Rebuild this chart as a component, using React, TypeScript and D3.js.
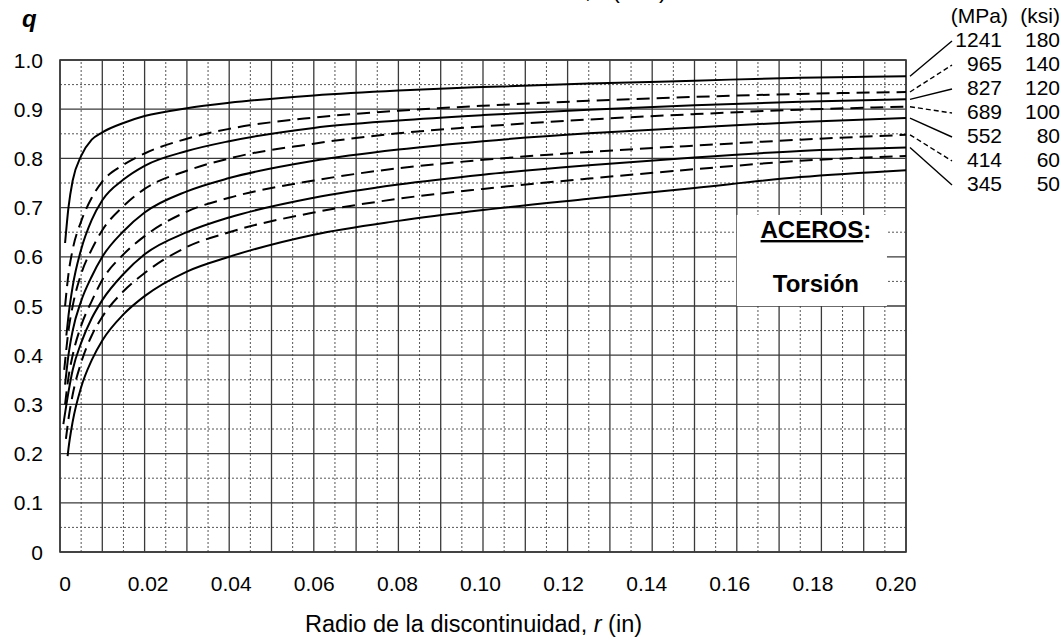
import React from "react";
import * as d3 from "d3";

// ---------- data ----------
const rGrid = [0.002, 0.003, 0.005, 0.0075, 0.01, 0.015, 0.02, 0.03, 0.04, 0.06, 0.08, 0.1, 0.125, 0.15, 0.175, 0.2];

const startR = [0.0012, 0.0012, 0.0015, 0.001, 0.0012, 0.0012, 0.0008, 0.0014, 0.0018];
const startQ = [0.628, 0.5, 0.44, 0.37, 0.34, 0.3, 0.26, 0.23, 0.195];

const q1 = [0.7, 0.755, 0.805, 0.838, 0.853, 0.872, 0.886, 0.902, 0.913, 0.928, 0.938, 0.945, 0.952, 0.958, 0.964, 0.967];
const q2 = [0.565, 0.615, 0.672, 0.72, 0.753, 0.787, 0.81, 0.84, 0.86, 0.883, 0.897, 0.907, 0.917, 0.925, 0.931, 0.935];
const q3 = [0.48, 0.54, 0.615, 0.675, 0.715, 0.757, 0.785, 0.815, 0.835, 0.862, 0.877, 0.888, 0.899, 0.908, 0.915, 0.92];
const q4 = [0.45, 0.5, 0.565, 0.615, 0.654, 0.703, 0.738, 0.775, 0.8, 0.83, 0.851, 0.865, 0.879, 0.89, 0.899, 0.905];
const q5 = [0.4, 0.45, 0.51, 0.56, 0.6, 0.652, 0.69, 0.733, 0.76, 0.795, 0.818, 0.835, 0.851, 0.863, 0.874, 0.882];
const q6 = [0.355, 0.4, 0.46, 0.51, 0.553, 0.605, 0.642, 0.692, 0.72, 0.755, 0.78, 0.797, 0.813, 0.826, 0.838, 0.848];
const q7 = [0.325, 0.37, 0.425, 0.475, 0.512, 0.565, 0.605, 0.65, 0.68, 0.72, 0.747, 0.767, 0.786, 0.802, 0.815, 0.822];
const q8 = [0.27, 0.32, 0.385, 0.44, 0.478, 0.53, 0.567, 0.62, 0.65, 0.69, 0.718, 0.738, 0.759, 0.778, 0.795, 0.805];
const q9 = [0.21, 0.265, 0.335, 0.39, 0.43, 0.483, 0.52, 0.57, 0.6, 0.645, 0.673, 0.695, 0.718, 0.74, 0.762, 0.776];

const seriesQ = [q1, q2, q3, q4, q5, q6, q7, q8, q9];
const seriesDashed = [false, true, false, true, false, true, false, true, false];

const legendMPa = ["1241", "965", "827", "689", "552", "414", "345"];
const legendKsi = ["180", "140", "120", "100", "80", "60", "50"];

const xTicks = [0, 0.02, 0.04, 0.06, 0.08, 0.1, 0.12, 0.14, 0.16, 0.18, 0.2];
const xTickLabels = ["0", "0.02", "0.04", "0.06", "0.08", "0.10", "0.12", "0.14", "0.16", "0.18", "0.20"];
const yTicks = [0, 0.1, 0.2, 0.3, 0.4, 0.5, 0.6, 0.7, 0.8, 0.9, 1.0];
const yTickLabels = ["0", "0.1", "0.2", "0.3", "0.4", "0.5", "0.6", "0.7", "0.8", "0.9", "1.0"];

// ---------- layout ----------
const W = 1061;
const H = 643;
const FONT = "'Liberation Sans', Arial, sans-serif";

export default function App() {
  const x = d3.scaleLinear().domain([0, 0.2]).range([60, 906]);
  const y = d3.scaleLinear().domain([0, 1]).range([552, 60]);
  const xLabel = d3.scaleLinear().domain([0, 0.2]).range([65, 896]);

  const line = d3
    .line<[number, number]>()
    .x((d) => x(d[0]))
    .y((d) => y(d[1]))
    .curve(d3.curveMonotoneX);

  const curves = seriesQ.map((qs, i) => {
    const pts: [number, number][] = [[startR[i], startQ[i]]];
    rGrid.forEach((r, j) => pts.push([r, qs[j]]));
    return pts;
  });

  const solidV = d3.range(0, 21).map((i) => i * 0.01);
  const dotV = d3.range(0, 20).map((i) => i * 0.01 + 0.005);
  const solidH = d3.range(0, 11).map((i) => i * 0.1);
  const dotH = d3.range(0, 10).map((i) => i * 0.1 + 0.05);

  const gridColor = "#3a3a3a";
  const dotColor = "#555";

  const boxX0 = x(0.16);
  const boxX1 = x(0.1955);
  const boxY0 = y(0.685);
  const boxY1 = y(0.5);
  const boxMid = (boxX0 + boxX1) / 2 + 4;

  const legendRowBase = (i: number) => 47 + i * 24;

  return (
    <svg
      width={W}
      height={H}
      style={{ position: "absolute", left: 0, top: 0, background: "#fff" }}
      fontFamily={FONT}
    >
      <rect x={0} y={0} width={W} height={H} fill="#fff" />

      {/* dotted grid */}
      {dotV.map((v, i) => (
        <line key={"dv" + i} x1={x(v)} x2={x(v)} y1={y(0)} y2={y(1)} stroke={dotColor} strokeWidth={1} strokeDasharray="2,2" />
      ))}
      {dotH.map((v, i) => (
        <line key={"dh" + i} x1={x(0)} x2={x(0.2)} y1={y(v)} y2={y(v)} stroke={dotColor} strokeWidth={1} strokeDasharray="2,2" />
      ))}
      {/* solid grid */}
      {solidV.map((v, i) => (
        <line key={"sv" + i} x1={x(v)} x2={x(v)} y1={y(0)} y2={y(1)} stroke={gridColor} strokeWidth={1.3} />
      ))}
      {solidH.map((v, i) => (
        <line key={"sh" + i} x1={x(0)} x2={x(0.2)} y1={y(v)} y2={y(v)} stroke={gridColor} strokeWidth={1.3} />
      ))}
      <rect x={x(0)} y={y(1)} width={x(0.2) - x(0)} height={y(0) - y(1)} fill="none" stroke={gridColor} strokeWidth={1.6} />

      {/* annotation box */}
      <rect x={boxX0} y={boxY0} width={boxX1 - boxX0} height={boxY1 - boxY0} fill="#fff" />
      <text x={boxMid} y={238} textAnchor="middle" fontSize={24} fontWeight="bold" fill="#000">
        <tspan textDecoration="underline" style={{ textDecoration: "underline" }}>ACEROS</tspan>:
      </text>
      <text x={boxMid} y={292} textAnchor="middle" fontSize={24} fontWeight="bold" fill="#000">
        Torsión
      </text>

      {/* curves */}
      {curves.map((pts, i) => (
        <path
          key={"c" + i}
          d={line(pts) || ""}
          fill="none"
          stroke="#000"
          strokeWidth={2}
          strokeDasharray={seriesDashed[i] ? "13,7" : undefined}
        />
      ))}

      {/* leader lines */}
      {legendMPa.map((_, i) => {
        const qEnd = seriesQ[i][seriesQ[i].length - 1];
        return (
          <line
            key={"ld" + i}
            x1={x(0.2) + 4}
            y1={y(qEnd)}
            x2={952}
            y2={legendRowBase(i) - 6}
            stroke="#000"
            strokeWidth={1.4}
            strokeDasharray={seriesDashed[i] ? "5,3" : undefined}
          />
        );
      })}

      {/* legend text */}
      <text x={1008} y={23} textAnchor="end" fontSize={21} fill="#000">(MPa)</text>
      <text x={1060} y={23} textAnchor="end" fontSize={21} fill="#000">(ksi)</text>
      {legendMPa.map((m, i) => (
        <g key={"lg" + i}>
          <text x={1002} y={legendRowBase(i)} textAnchor="end" fontSize={21} fill="#000">{m}</text>
          <text x={1060} y={legendRowBase(i)} textAnchor="end" fontSize={21} fill="#000">{legendKsi[i]}</text>
        </g>
      ))}

      {/* y tick labels */}
      {yTicks.map((v, i) => (
        <text key={"yt" + i} x={43} y={y(v)} dy="0.36em" textAnchor="end" fontSize={21} fill="#000">
          {yTickLabels[i]}
        </text>
      ))}
      {/* x tick labels */}
      {xTicks.map((v, i) => (
        <text key={"xt" + i} x={xLabel(v)} y={591} textAnchor="middle" fontSize={21} fill="#000">
          {xTickLabels[i]}
        </text>
      ))}

      {/* axis titles */}
      <text x={22} y={27} fontSize={24} fontWeight="bold" fontStyle="italic" fill="#000">q</text>
      <text x={305} y={632} fontSize={23.5} fill="#000">
        Radio de la discontinuidad, <tspan fontStyle="italic">r</tspan> (in)
      </text>
      <text x={309} y={-2} fontSize={23.5} fill="#000">
        Radio de la discontinuidad, <tspan fontStyle="italic">r</tspan> (mm)
      </text>
    </svg>
  );
}
